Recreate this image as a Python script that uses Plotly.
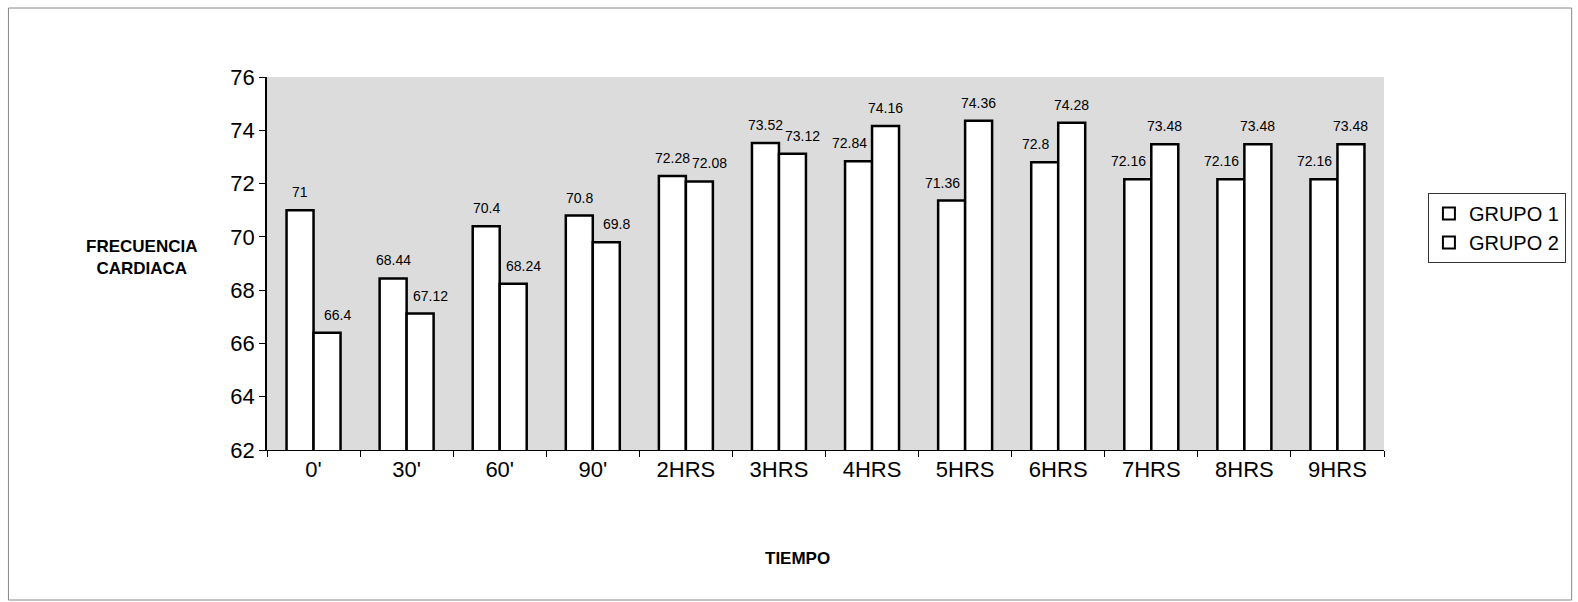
import plotly.graph_objects as go

categories = ["0'", "30'", "60'", "90'", "2HRS", "3HRS", "4HRS", "5HRS", "6HRS", "7HRS", "8HRS", "9HRS"]
grupo1 = [71, 68.44, 70.4, 70.8, 72.28, 73.52, 72.84, 71.36, 72.8, 72.16, 72.16, 72.16]
grupo2 = [66.4, 67.12, 68.24, 69.8, 72.08, 73.12, 74.16, 74.36, 74.28, 73.48, 73.48, 73.48]
series_names = ["GRUPO 1", "GRUPO 2"]
y_ticks = [62, 64, 66, 68, 70, 72, 74, 76]

FONT = "Liberation Sans, Arial, sans-serif"

L, R, T, B = 267, 1578 - 1386, 77, 602 - 450
pw, ph = 1578 - L - R, 602 - T - B
BARGAP = 0.42
bar_px = pw / len(categories) * (1 - BARGAP) / 2

def px(x):
    return (x - L) / pw

def py(y):
    return (602 - B - y) / ph

fig = go.Figure()
for name, vals in zip(series_names, [grupo1, grupo2]):
    fig.add_trace(go.Bar(
        x=categories, y=vals, name=name,
        marker=dict(color="white", line=dict(color="black", width=2.5)),
        cliponaxis=False,
    ))

# value labels (shifted sideways when the neighbouring bar is taller, as in the original)
annotations = []
for i, cat in enumerate(categories):
    a, b = grupo1[i], grupo2[i]
    s1 = -bar_px / 2 - (9 if b > a else 0)
    s2 = bar_px / 2 + (10 if a > b else 0)
    for v, s in ((a, s1), (b, s2)):
        annotations.append(dict(
            x=cat, y=v, xref="x", yref="y", text=f"{v:g}", showarrow=False,
            xshift=s, yshift=8, yanchor="bottom",
            font=dict(family=FONT, size=14, color="black")))

annotations += [
    dict(text="<b>FRECUENCIA<br>CARDIACA</b>", x=px(84), y=py(257), xref="paper",
         yref="paper", showarrow=False, font=dict(family=FONT, size=17, color="black"),
         align="center"),
    dict(text="<b>TIEMPO</b>", x=px(798), y=py(570), xref="paper", yref="paper",
         showarrow=False, font=dict(family=FONT, size=17, color="black")),
]

fig.update_layout(
    width=1578, height=602,
    margin=dict(l=L, r=R, t=T, b=B),
    paper_bgcolor="white", plot_bgcolor="#dcdcdc",
    barmode="group", bargap=BARGAP, bargroupgap=0,
    font=dict(family=FONT, color="black"),
    showlegend=True,
    legend=dict(x=px(1430), y=py(193), xanchor="left", yanchor="top",
                bgcolor="white", bordercolor="#333", borderwidth=1,
                font=dict(family=FONT, size=20, color="black"),
                tracegroupgap=2, itemsizing="constant"),
    xaxis=dict(showline=True, linecolor="black", linewidth=1, ticks="outside",
               ticklen=6, tickcolor="black", tickson="boundaries",
               tickfont=dict(family=FONT, size=22, color="black"), showgrid=False,
               mirror=False),
    yaxis=dict(range=[62, 76], tickvals=y_ticks, showline=True, linecolor="black",
               linewidth=1.5, ticks="outside", ticklen=6, tickcolor="black",
               tickfont=dict(family=FONT, size=22, color="black"), showgrid=False,
               zeroline=False),
    annotations=annotations,
    shapes=[
        dict(type="rect", xref="paper", yref="paper", x0=px(8), x1=px(1574), y0=py(600),
             y1=py(8), line=dict(color="#888", width=1)),
    ],
)

fig.write_html("out.html")
